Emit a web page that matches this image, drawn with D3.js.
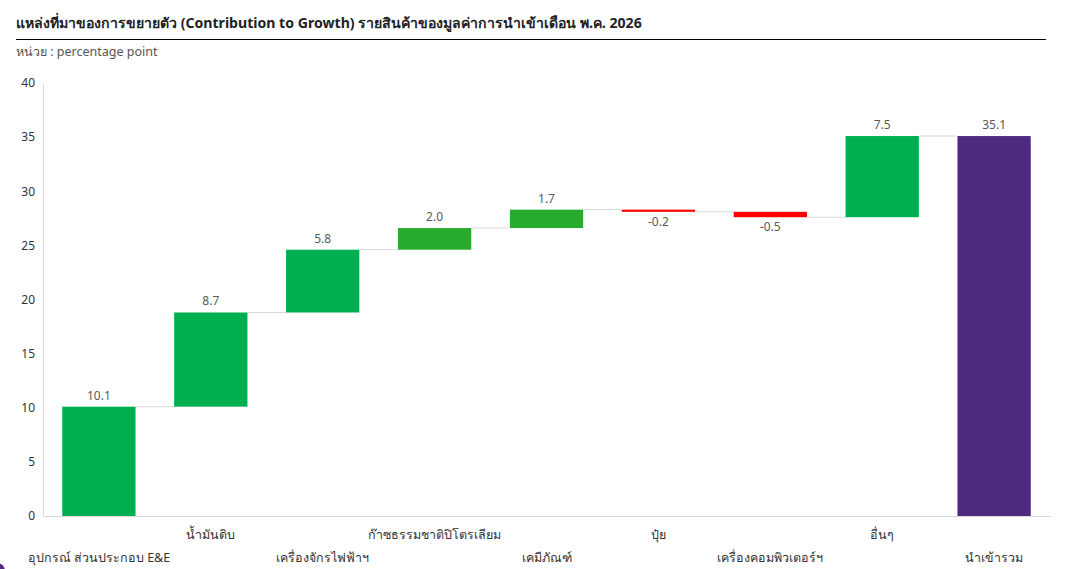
<!DOCTYPE html>
<html>
<head>
<meta charset="utf-8">
<script src="https://cdn.jsdelivr.net/npm/d3@7"></script>
<style>
  body { margin: 0; background: #fff; font-family: "Noto Sans", "Open Sans", sans-serif; }
  svg { display: block; }
</style>
</head>
<body>
<div id="chart"></div>
<script>
// data
var categories = ["อุปกรณ์ ส่วนประกอบ E&E", "น้ำมันดิบ", "เครื่องจักรไฟฟ้าฯ", "ก๊าซธรรมชาติปิโตรเลียม",
  "เคมีภัณฑ์", "ปุ๋ย", "เครื่องคอมพิวเตอร์ฯ", "อื่นๆ", "นำเข้ารวม"];
var values = [10.1, 8.7, 5.8, 2.0, 1.7, -0.2, -0.5, 7.5, 35.1];
var isTotal = [false, false, false, false, false, false, false, false, true];
var yTicks = [0, 5, 10, 15, 20, 25, 30, 35, 40];

// styling, separate from the data
var barColors = ["#00B050", "#00B050", "#00B050", "#28AC2E", "#28AC2E", "#FF0000", "#FF0000", "#00B050", "#4F2A80"];

var W = 1072, H = 569;
var margin = { top: 83, right: 22, bottom: 53, left: 43 };
var width = W - margin.left - margin.right,
  height = H - margin.top - margin.bottom;

var svg = d3.select("#chart").append("svg")
  .attr("width", W)
  .attr("height", H);

// title + rule + unit
svg.append("text")
  .attr("x", 16).attr("y", 28)
  .attr("font-size", 14.1).attr("font-weight", "bold").attr("fill", "#222")
  .text("แหล่งที่มาของการขยายตัว (Contribution to Growth) รายสินค้าของมูลค่าการนำเข้าเดือน พ.ค. 2026");
svg.append("line")
  .attr("x1", 16).attr("x2", 1046).attr("y1", 39.5).attr("y2", 39.5)
  .attr("stroke", "#000").attr("stroke-width", 1.2);
svg.append("text")
  .attr("x", 16).attr("y", 56)
  .attr("font-size", 12.5).attr("fill", "#555")
  .text("หน่วย : percentage point");

// running totals for the waterfall
var rows = [];
var run = 0;
values.forEach(function (v, i) {
  var start, end;
  if (isTotal[i]) { start = 0; end = v; run = v; }
  else { start = run; end = run + v; run = end; }
  rows.push({ name: categories[i], value: v, start: start, end: end, i: i });
});

var g = svg.append("g").attr("transform", "translate(" + margin.left + "," + margin.top + ")");

var x = d3.scaleBand()
  .domain(categories)
  .range([0, width])
  .paddingInner(0.345)
  .paddingOuter(0.172);

var y = d3.scaleLinear()
  .domain([0, 40])
  .range([height, 0]);

// axes: light grey lines, no ticks
var yAxis = g.append("g")
  .call(d3.axisLeft(y).tickValues(yTicks).tickSize(0).tickPadding(8));
yAxis.select(".domain").attr("stroke", "#d9d9d9");
yAxis.selectAll("text").attr("font-size", 12).attr("fill", "#333").attr("font-family", "'Noto Sans', sans-serif");

var xAxis = g.append("g")
  .attr("transform", "translate(0," + height + ")")
  .call(d3.axisBottom(x).tickSize(0).tickFormat(""));
xAxis.select(".domain").attr("stroke", "#d9d9d9");

// connector lines between bars
g.selectAll(".conn")
  .data(rows.slice(0, rows.length - 1))
  .enter()
  .append("line")
  .attr("class", "conn")
  .attr("x1", function (d) { return x(d.name) + x.bandwidth(); })
  .attr("x2", function (d) { return x(categories[d.i + 1]); })
  .attr("y1", function (d) { return y(d.end); })
  .attr("y2", function (d) { return y(d.end); })
  .attr("stroke", "#d9d9d9")
  .attr("stroke-width", 1);

// bars
g.selectAll(".bar")
  .data(rows)
  .enter()
  .append("rect")
  .attr("class", "bar")
  .attr("x", function (d) { return x(d.name); })
  .attr("width", x.bandwidth())
  .attr("y", function (d) { return y(Math.max(d.start, d.end)); })
  .attr("height", function (d) { return Math.max(1.5, Math.abs(y(d.start) - y(d.end))); })
  .attr("fill", function (d) { return barColors[d.i]; });

// value labels
g.selectAll(".lbl")
  .data(rows)
  .enter()
  .append("text")
  .attr("class", "lbl")
  .attr("x", function (d) { return x(d.name) + x.bandwidth() / 2; })
  .attr("y", function (d) {
    if (d.value < 0) return y(Math.min(d.start, d.end)) + 14;
    return y(Math.max(d.start, d.end)) - 7;
  })
  .attr("text-anchor", "middle")
  .attr("font-size", 12)
  .attr("fill", "#595959")
  .text(function (d) { return d3.format(".1f")(d.value).replace("−", "-"); });

// category labels, staggered on two rows
g.selectAll(".cat")
  .data(rows)
  .enter()
  .append("text")
  .attr("class", "cat")
  .attr("x", function (d) { return x(d.name) + x.bandwidth() / 2; })
  .attr("y", function (d) { return height + (d.i % 2 === 1 ? 23 : 46); })
  .attr("text-anchor", "middle")
  .attr("font-size", 12.5)
  .attr("fill", "#333")
  .text(function (d) { return d.name; });

// small purple corner mark
svg.append("circle")
  .attr("cx", -3).attr("cy", 571).attr("r", 8)
  .attr("fill", "#4F2A80");
</script>
</body>
</html>
